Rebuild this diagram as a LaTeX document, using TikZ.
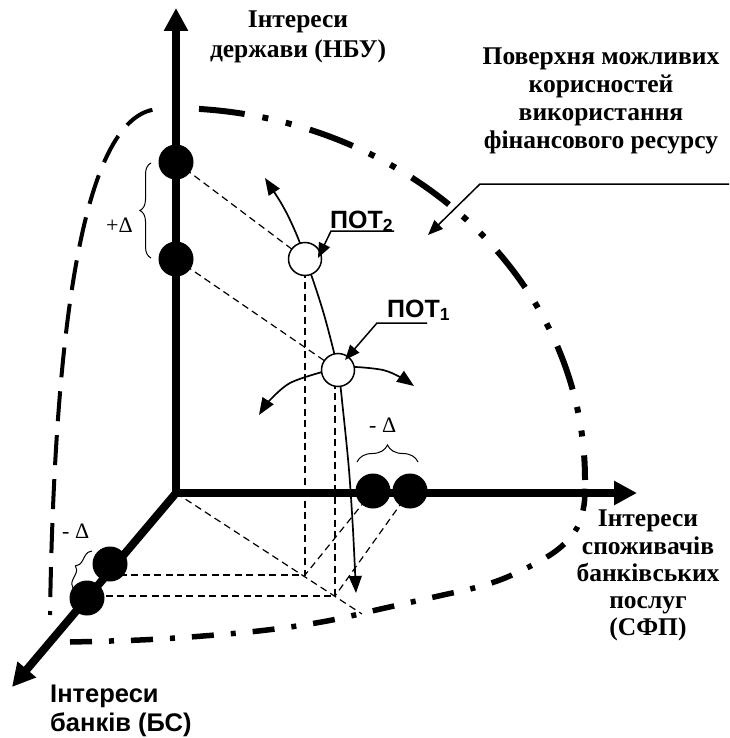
\documentclass[tikz,border=0pt]{standalone}
\usepackage{fontspec}
\setmainfont{Liberation Serif}
\setsansfont{Liberation Sans}
\usetikzlibrary{arrows.meta,decorations.pathreplacing}
\begin{document}
\begin{tikzpicture}[x=1pt,y=-1pt,
 axisline/.style={line width=8.5pt,-{Triangle[length=23pt,width=23pt]}},
 bdot/.style={circle,fill=black,inner sep=0pt,minimum size=35pt},
 wdot/.style={circle,draw=black,fill=white,line width=1.5pt,inner sep=0pt,minimum size=33pt},
 proj/.style={line width=1.2pt,dash pattern=on 7pt off 4.5pt},
 curv/.style={line width=1.7pt,{Triangle[length=17pt,width=13pt]}-{Triangle[length=17pt,width=13pt]}},
 lead/.style={line width=1.5pt,-{Triangle[length=15pt,width=12pt]}},
 brc/.style={decorate,decoration={brace,amplitude=#1},line width=1pt},
 serlab/.style={font=\bfseries\fontsize{25.5}{28}\selectfont,inner sep=0pt,anchor=base},
 sanlab/.style={font=\sffamily\bfseries\fontsize{25.5}{28}\selectfont,inner sep=0pt,anchor=base west},
 potlab/.style={font=\sffamily\bfseries\fontsize{25}{30}\selectfont,inner sep=0pt,anchor=base west},
 dlab/.style={font=\fontsize{22}{26}\selectfont,inner sep=0pt,anchor=base west},
 surfL/.style={line width=4pt,dash pattern=on 30pt off 14pt,dash phase=26pt},
 surfT/.style={line width=6pt,dash pattern=on 46pt off 18pt on 6pt off 18pt on 6pt off 19pt},
 surfB/.style={line width=5.5pt,dash pattern=on 22pt off 17pt on 5pt off 17pt},
]
\useasboundingbox (0,0) rectangle (729,738);
% key points
\coordinate (O) at (176,493);
\coordinate (Ytip) at (176,8);
\coordinate (Xtip) at (637,493);
\coordinate (Ztip) at (12,687);
\coordinate (v1) at (176,162);
\coordinate (v2) at (176,259);
\coordinate (h1) at (373,491);
\coordinate (h2) at (410,491);
\coordinate (b1) at (110,564);
\coordinate (b2) at (87,598);
\coordinate (p2) at (305,259);
\coordinate (p1) at (338,370);
\coordinate (c2) at (305,575);
\coordinate (c1) at (335,596);
\coordinate (e) at (362,614);
% surface of possible utilities
\draw[surfL] (50,615) .. controls (55,300) and (88,110) .. (160,109);
\draw[surfT] (198.96,108.9) arc[start angle=-86,end angle=0,x radius=415,y radius=372];
\draw[surfB] plot[smooth,tension=0.6] coordinates {(70,642) (140,640) (203,636) (267,630) (327,621) (385,608) (443,595) (474,588) (505,578) (540,561) (562,546) (577,528) (584,505) (585,480)};
% projection lines
\draw[proj] (v1) -- (p2);
\draw[proj] (v2) -- (p1);
\draw[proj] (p2) -- (c2) -- (c2 -| b1);
\draw[proj] (c1 |- p1) -- (c1) -- (c1 -| b2);
\draw[proj] (O) -- (e);
\draw[proj] (h1) -- (c2);
\draw[proj] (h2) -- (c1);
% axes
\draw[axisline,line cap=rect] (O) -- (Ytip);
\draw[axisline,line cap=rect] (O) -- (Xtip);
\draw[axisline,line width=8pt] (O) -- (Ztip);
% movement curves
\draw[curv] plot[smooth] coordinates {(265,178) (285,210) (298,238) (305,259) (313,280) (325,318) (338,370) (343,410) (349,470) (353,530) (356,593)};
\draw[curv] plot[smooth] coordinates {(259,415) (270,400) (290,383) (322,372) (338,369) (355,367) (383,370) (400,377) (414,386)};
% points
\node[bdot] (V1) at (v1) {};
\node[bdot] (V2) at (v2) {};
\node[bdot] (H1) at (h1) {};
\node[bdot] (H2) at (h2) {};
\node[bdot] (B1) at (b1) {};
\node[bdot] (B2) at (b2) {};
\node[wdot] (P2) at (p2) {};
\node[wdot] (P1) at (p1) {};
% braces
\draw[brc=11] (151,258) -- (151,163);
\draw[brc=17] (357,462) -- (418,462);
\draw[brc=8] (73,588) -- (92,551);
% labels
\node[serlab] (ly1) at (298,28) {Інтереси};
\node[serlab] (ly2) at (298,58) {держави (НБУ)};
\node[serlab] (ls1) at (601,65) {Поверхня можливих};
\node[serlab] (ls2) at (601,93) {корисностей};
\node[serlab] (ls3) at (601,121) {використання};
\node[serlab] (ls4) at (601,149) {фінансового ресурсу};
\node[serlab] (lx1) at (648,526) {Інтереси};
\node[serlab] (lx2) at (648,554) {споживачів};
\node[serlab] (lx3) at (648,581) {банківських};
\node[serlab] (lx4) at (648,608) {послуг};
\node[serlab] (lx5) at (648,635) {(СФП)};
\node[sanlab] (lz1) at (50,702) {Інтереси};
\node[sanlab] (lz2) at (50,731) {банків (БС)};
\node[potlab] (t2) at (330,228) {ПОТ\textsubscript{2}};
\node[potlab] (t1) at (387,317) {ПОТ\textsubscript{1}};
\node[dlab] (d1) at (106,232) {+Δ};
\node[dlab] (d2) at (369,432) {- Δ};
\node[dlab] (d3) at (62,538) {- Δ};
% leaders
\coordinate (k2a) at (394,231);
\coordinate (k2b) at (331,231);
\coordinate (k2c) at (318,258);
\draw[lead] (k2a) -- (k2b) -- (k2c);
\coordinate (k1a) at (427,323);
\coordinate (k1b) at (377,323);
\coordinate (k1c) at (345,360);
\draw[lead] (k1a) -- (k1b) -- (k1c);
\coordinate (ksa) at (729,184);
\coordinate (ksb) at (480,184);
\coordinate (ksc) at (428,235);
\draw[lead] (ksa) -- (ksb) -- (ksc);
\end{tikzpicture}
\end{document}
